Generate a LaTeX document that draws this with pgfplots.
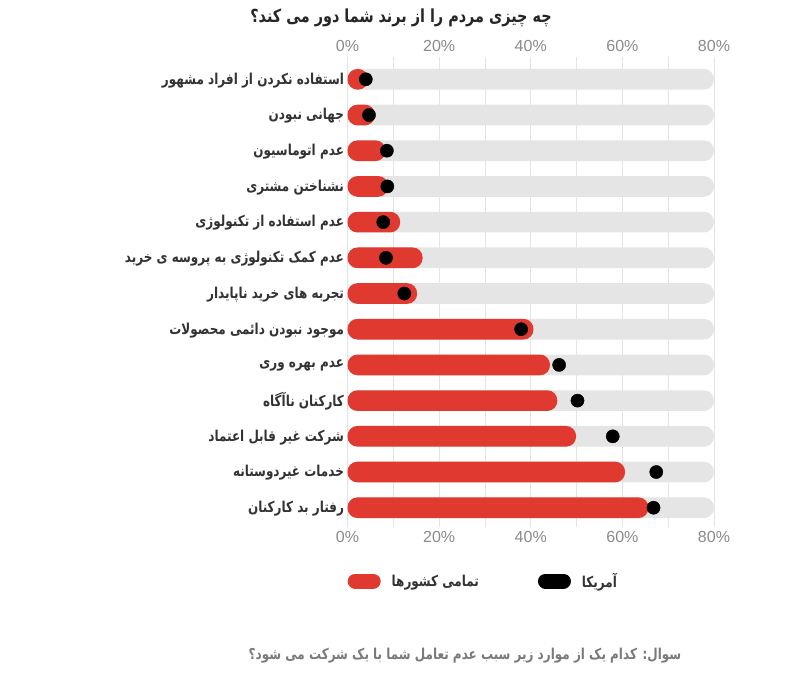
\documentclass[border=0pt]{standalone}
\usepackage{pgfplots}
\usepackage{pgfplotstable}
\pgfplotsset{compat=1.18}
\usepackage{fontspec}
\setmainfont{Liberation Sans}
\newfontfamily\arabicfont[Script=Arabic]{DejaVu Sans}
\TeXXeTstate=1
\newcommand{\fa}[1]{\scalebox{0.8}[1]{\arabicfont #1}}
\definecolor{barred}{HTML}{E03A30}
\definecolor{bargray}{HTML}{E5E5E5}
\definecolor{gridgray}{HTML}{E4E4E4}
\definecolor{ticktxt}{HTML}{8A8A8A}
\definecolor{labtxt}{HTML}{333333}
\definecolor{foottxt}{HTML}{7A7A7A}

\pgfplotstableread{
row full all usa
1  80 4.5  4.0
2  80 6.0  4.7
3  80 8.3  8.6
4  80 8.9  8.7
5  80 11.5 7.8
6  80 16.4 8.4
7  80 15.2 12.4
8  80 40.6 37.9
9  80 44.2 46.2
10 80 45.8 50.2
11 80 49.9 57.9
12 80 60.6 67.4
13 80 65.7 66.8
}\data

\begin{document}
\begin{tikzpicture}
\useasboundingbox (0pt,0pt) rectangle (785pt,698pt);
\begin{axis}[
  at={(347.5pt,171pt)}, anchor=south west,
  scale only axis, width=366.5pt, height=470pt,
  xmin=0, xmax=80, ymin=0.375, ymax=13.54, y dir=reverse,
  axis line style={draw=none},
  xtick={0,10,...,80},
  xticklabels={0\%,,20\%,,40\%,,60\%,,80\%},
  xmajorgrids, grid style={gridgray, line width=0.8pt},
  major tick length=0pt,
  xticklabel style={font=\fontsize{16}{18}\selectfont, text=ticktxt, yshift=-1pt},
  ytick={1,...,13},
  yticklabels={
    \fa{\beginR استفاده نکردن از افراد مشهور\endR},
    \fa{\beginR جهانی نبودن\endR},
    \fa{\beginR عدم اتوماسیون\endR},
    \fa{\beginR نشناختن مشتری\endR},
    \fa{\beginR عدم استفاده از تکنولوژی\endR},
    \fa{\beginR عدم کمک تکنولوژی به پروسه ی خرید\endR},
    \fa{\beginR تجربه های خرید ناپایدار\endR},
    \fa{\beginR موجود نبودن دائمی محصولات\endR},
    \fa{\beginR عدم بهره وری\endR},
    \fa{\beginR کارکنان ناآگاه\endR},
    \fa{\beginR شرکت غیر قابل اعتماد\endR},
    \fa{\beginR خدمات غیردوستانه\endR},
    \fa{\beginR رفتار بد کارکنان\endR}},
  yticklabel style={font=\bfseries\fontsize{15}{17}\selectfont, text=labtxt, yshift=-1pt},
  legend columns=2,
  legend style={draw=none, fill=none, at={(0,-0.115)}, anchor=west,
    inner sep=0pt, font=\bfseries\fontsize{15}{17}\selectfont, text=labtxt,
    /tikz/every odd column/.append style={column sep=9pt},
    /tikz/every even column/.append style={column sep=57pt}},
]
\addplot[xbar, bar width=20.7pt, bar shift=0pt, fill=bargray, draw=none,
  rounded corners=10pt, forget plot] table[x=full, y=row] {\data};
\addplot[xbar, bar width=20.7pt, bar shift=0pt, fill=barred, draw=none,
  rounded corners=10pt,
  legend image code/.code={\draw[barred, line width=15pt, line cap=round] (7.5pt,0pt) -- (25.5pt,0pt);}]
  table[x=all, y=row] {\data};
\addplot[only marks, mark=*, mark size=6.6pt, black,
  legend image code/.code={\draw[black, line width=15pt, line cap=round] (7.5pt,0pt) -- (25.5pt,0pt);}]
  table[x=usa, y=row] {\data};
\legend{\fa{\beginR تمامی کشورها\endR}, \fa{\beginR آمریکا\endR}}
\end{axis}
\begin{axis}[
  at={(347.5pt,171pt)}, anchor=south west,
  scale only axis, width=366.5pt, height=470pt,
  xmin=0, xmax=80, ymin=0, ymax=1,
  hide y axis, axis x line*=top, axis line style={draw=none},
  xtick={0,20,...,80},
  xticklabels={0\%,20\%,40\%,60\%,80\%},
  major tick length=0pt,
  xticklabel style={font=\fontsize{16}{18}\selectfont, text=ticktxt, yshift=2pt},
]
\end{axis}
\node[font=\bfseries\fontsize{18}{20}\selectfont, text=black!85] at (401pt,680pt)
  {\fa{\beginR چه چیزی مردم را از برند شما دور می کند؟\endR}};
\node[font=\bfseries\fontsize{15}{17}\selectfont, text=foottxt] at (465pt,42pt)
  {\fa{\beginR سوال: کدام یک از موارد زیر سبب عدم تعامل شما با یک شرکت می شود؟\endR}};
\end{tikzpicture}
\end{document}
